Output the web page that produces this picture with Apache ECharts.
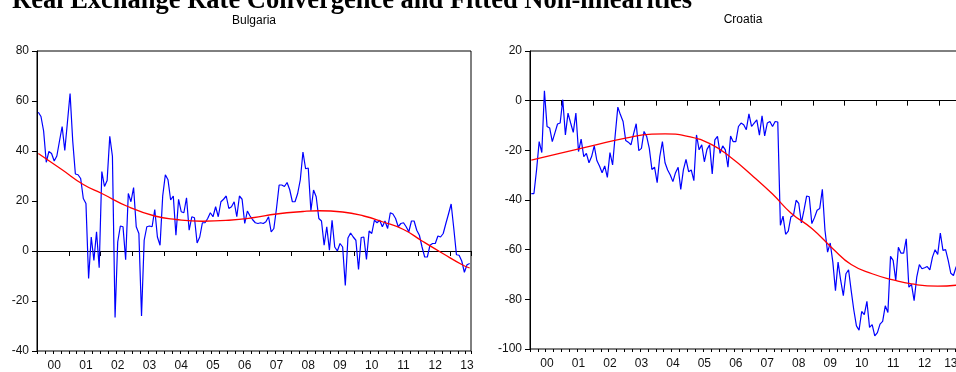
<!DOCTYPE html>
<html>
<head>
<meta charset="utf-8">
<script src="https://cdn.jsdelivr.net/npm/echarts@6/dist/echarts.min.js"></script>
<style>
  html, body { margin: 0; padding: 0; background: #fff; }
  #chart { width: 956px; height: 372px; }
</style>
</head>
<body>
<div id="chart"></div>
<script>
/* ── Data ─────────────────────────────────────────── */
const START_YEAR = 2000;
const N_MONTHS = 164; // 2000M01 .. 2013M08

const months = [];
for (let i = 0; i < N_MONTHS; i++) {
  const y = START_YEAR + Math.floor(i / 12);
  const m = (i % 12) + 1;
  months.push(y + "-" + (m < 10 ? "0" : "") + m);
}

const bulgaria = [
  55.5, 53.8, 48, 35.5, 39.8, 39, 36, 38, 44, 49.8, 40.2, 51.5,
  63, 44, 30.8, 30.5, 29, 21, 19, -11, 5.6, -3.8, 7.7, -6.7,
  31.8, 25.8, 28.2, 45.9, 37.9, -26.6, 3.6, 10, 9.7, -3.5, 23, 19.7,
  25.4, 9.7, 7, -26, 4.3, 9.7, 10, 9.7, 16.6, 5.6, 2.3, 22,
  30.5, 28.5, 20.4, 22, 6.3, 20.7, 15.7, 15.3, 21.3, 8.3, 13.7, 13.3,
  3.2, 5.6, 11.3, 11.3, 13, 15.3, 13.7, 17.7, 13.7, 19.7, 20.7, 22,
  17, 17.7, 19.7, 13.7, 22, 20.7, 11, 16, 14, 12.5, 11.3, 11,
  11.3, 11, 11.7, 13.7, 7.6, 9, 17, 26.4, 26.4, 25.8, 27.4, 24.5,
  19.7, 19.7, 23, 28.5, 39.6, 32.9, 33.2, 16.1, 24.4, 21.7, 13, 12,
  2.3, 9.7, 0.3, 12.3, 1.6, 0, 3, 1.6, -13.8, 5.2, 7.2, 5.6,
  4.3, -7.4, 5.4, 5.6, -3.4, 8, 7, 12.3, 11.3, 12.3, 9.7, 12,
  9, 15.3, 14.8, 13, 9.7, 11, 11.3, 9.7, 7.7, 12, 12, 8.3,
  6.3, 1.6, -2.4, -2.4, 2.3, 3, 3, 6, 5.6, 7, 11, 14.8,
  18.8, 9, -1.5, -1.7, -4, -8.5, -5.5, -5
];

// fitted curve, read at [month index, value]
const bulgariaFit = [
  [0, 39], [9, 32.5], [17, 26.6], [24, 23], [34, 17.7], [44, 14],
  [52, 12.6], [62, 11.9], [72, 12.3], [81, 13.3], [90, 14.8], [100, 15.8],
  [106, 16.1], [115, 15.6], [123, 14], [130, 11.7], [138, 8.6], [145, 4],
  [153, -1.1], [160, -5.4], [163, -6.8]
];

const croatia = [
  -37.4, -37.4, -27.9, -16.5, -20.9, 4, -10.4, -11, -16.5, -13, -9.4, -9,
  0.4, -13.8, -5, -9, -12.8, -5, -20.5, -15.5, -22.5, -21.2, -25, -22.5,
  -18.2, -24.1, -26.3, -29, -26.3, -30.9, -20.9, -25.9, -13.8, -2.6, -5.7, -8.4,
  -16, -16.7, -17.8, -13.4, -9.3, -20.1, -19.2, -12.4, -14.4, -19.2, -27.7, -26.8,
  -33, -22.5, -16.5, -25, -27.9, -29.9, -32.6, -29, -26.8, -35.7, -27.9, -23.6,
  -28.6, -27.9, -32.2, -13.8, -19.8, -17.8, -24.6, -19.6, -17.8, -29.5, -15.8, -14.4,
  -21.2, -18.2, -19.8, -26.8, -14.2, -16.5, -16.5, -10.4, -9, -9.7, -11.7, -5.3,
  -10.4, -9, -7.7, -13.9, -6.1, -14.2, -9, -8.4, -10.4, -8.4, -8.6, -50.2,
  -46.5, -53.8, -52.5, -46.8, -46.1, -40.1, -41.4, -49.2, -44.1, -38.4, -38.7, -49.5,
  -47.1, -44.1, -43.4, -35.7, -52.2, -61, -57.3, -65, -76.5, -65, -72.4, -78.5,
  -69.7, -68.1, -76.5, -84.3, -90.7, -92.4, -84.9, -86.2, -80.8, -91.3, -90.2, -94.7,
  -93.4, -90, -88.9, -82.6, -85.3, -62.7, -64.3, -72.4, -59, -61.4, -61.4, -55.6,
  -75.1, -74, -80.5, -71.1, -66, -67.7, -67.3, -66.8, -68.1, -63, -60, -61.9,
  -53.3, -60.3, -60, -64.3, -69.5, -70.4, -67, -66
];

const croatiaFit = [
  [0, -23.9], [10, -21.4], [23, -18.2], [36, -15.1], [46, -13.5], [51, -13.4],
  [61, -14.7], [69, -17.8], [76, -22.8], [84, -29.9], [92, -37.6], [99, -45.2],
  [107, -51.5], [115, -59.6], [122, -66], [130, -69.7], [138, -72.2], [145, -73.8],
  [155, -74.7], [163, -74.2]
];

const TITLE = "Real Exchange Rate Convergence and Fitted Non-linearities";
const PANEL_TITLES = ["Bulgaria", "Croatia"];
const Y_RANGES = [[-40, 80], [-100, 20]];
// month index where the (partial) last year's label sits in each panel
const LAST_LABEL = [162, 160];

/* ── Chart ────────────────────────────────────────── */
const FONT = '"Liberation Sans", Arial, sans-serif';
const chart = echarts.init(document.getElementById("chart"), null, { renderer: "canvas" });

const grids = [
  { left: 37, top: 51, width: 434, height: 300 },
  { left: 530, top: 51, width: 430, height: 298 }
];

function xAxesFor(g) {
  const showLabel = (i) => (i < 156 ? i % 12 === 6 : i === LAST_LABEL[g]);
  return [
    {
      type: "category", gridIndex: g, data: months, position: "bottom", boundaryGap: true,
      axisLine: { show: true, lineStyle: { color: "#000", width: 1 } },
      axisTick: { show: true, length: 5, interval: (i) => i % 12 === 0, lineStyle: { color: "#000" } },
      axisLabel: {
        interval: showLabel, margin: 9, color: "#111", fontSize: 12, fontFamily: FONT,
        formatter: (v) => v.slice(2, 4)
      },
      splitLine: { show: false }
    },
    {
      type: "category", gridIndex: g, data: months, position: "bottom", boundaryGap: true,
      axisLine: { show: false },
      axisTick: { show: true, length: 3, interval: (i) => i % 3 === 0, lineStyle: { color: "#000" } },
      axisLabel: { show: false },
      splitLine: { show: false }
    }
  ];
}

function yAxisFor(g) {
  return {
    type: "value", gridIndex: g, min: Y_RANGES[g][0], max: Y_RANGES[g][1], interval: 20,
    axisLine: { show: true, lineStyle: { color: "#000", width: 1 } },
    axisTick: { show: true, length: 5, lineStyle: { color: "#000" } },
    axisLabel: { color: "#111", fontSize: 12, margin: 8, fontFamily: FONT },
    splitLine: { show: false }
  };
}

const option = {
  animation: false,
  backgroundColor: "#fff",
  grid: grids.map((g) => ({
    ...g, show: true, borderColor: "#000", borderWidth: 1, backgroundColor: "transparent",
    containLabel: false, outerBoundsMode: "none"
  })),
  xAxis: [...xAxesFor(0), ...xAxesFor(1)],
  yAxis: [yAxisFor(0), yAxisFor(1)],
  graphic: [
    {
      type: "text", x: 12, y: 1,
      style: { text: TITLE, font: 'bold 26.5px "Liberation Serif", "Times New Roman", serif', fill: "#000",
        align: "left", verticalAlign: "middle", textAlign: "left", textVerticalAlign: "middle" }
    },
    {
      type: "text", x: 254, y: 21,
      style: { text: PANEL_TITLES[0], font: '12px ' + FONT, fill: "#000",
        align: "center", verticalAlign: "middle", textAlign: "center", textVerticalAlign: "middle" }
    },
    {
      type: "text", x: 743, y: 20,
      style: { text: PANEL_TITLES[1], font: '12px ' + FONT, fill: "#000",
        align: "center", verticalAlign: "middle", textAlign: "center", textVerticalAlign: "middle" }
    }
  ],
  series: [
    { type: "line", xAxisIndex: 0, yAxisIndex: 0, data: bulgaria, showSymbol: false,
      lineStyle: { color: "#0000ff", width: 1.2 }, z: 3 },
    { type: "line", xAxisIndex: 0, yAxisIndex: 0, data: bulgariaFit, showSymbol: false, smooth: true,
      lineStyle: { color: "#ff0000", width: 1.3 }, z: 4 },
    { type: "line", xAxisIndex: 2, yAxisIndex: 1, data: croatia, showSymbol: false,
      lineStyle: { color: "#0000ff", width: 1.2 }, z: 3 },
    { type: "line", xAxisIndex: 2, yAxisIndex: 1, data: croatiaFit, showSymbol: false, smooth: true,
      lineStyle: { color: "#ff0000", width: 1.3 }, z: 4 }
  ]
};

chart.setOption(option);
</script>
</body>
</html>
